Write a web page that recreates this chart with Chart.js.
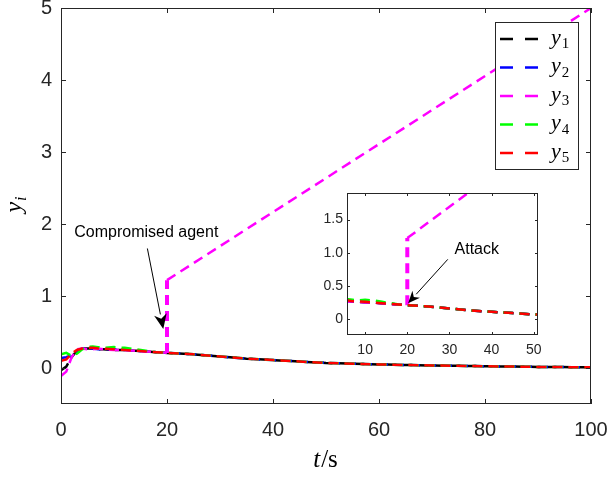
<!DOCTYPE html>
<html lang="en">
<head>
<meta charset="UTF-8">
<title>y_i x t</title>
<script src="https://cdn.jsdelivr.net/npm/chart.js"></script>
<style>
  body { margin: 0; background: #fff; }
  #wrap { position: relative; width: 613px; height: 482px; }
  #main { position: absolute; left: 0; top: 0; }
  #inset { position: absolute; left: 300px; top: 185px; }
</style>
</head>
<body>
<div id="wrap">
  <canvas id="main" width="613" height="482"></canvas>
  <canvas id="inset" width="250" height="176"></canvas>
</div>
<script>
// amostras de tempo (s)
const tempo = [0, 1, 2, 3, 4, 5, 6, 7, 8, 10, 12, 14, 16, 18, 20, 25, 30, 35, 40, 45, 50, 60, 70, 80, 90, 100];

// saidas dos agentes
const y1 = [-0.03, 0.02, 0.15, 0.24, 0.27, 0.27, 0.27, 0.26, 0.26, 0.25, 0.25, 0.24, 0.23, 0.22, 0.21, 0.19, 0.16, 0.13, 0.11, 0.09, 0.07, 0.05, 0.035, 0.025, 0.015, 0.01];
const y2 = [0.14, 0.15, 0.18, 0.24, 0.27, 0.28, 0.27, 0.26, 0.26, 0.26, 0.25, 0.24, 0.23, 0.22, 0.21, 0.19, 0.16, 0.13, 0.11, 0.09, 0.07, 0.05, 0.035, 0.025, 0.015, 0.01];
const y3 = [-0.11, -0.05, 0.15, 0.26, 0.27, 0.26, 0.26, 0.27, 0.26, 0.25, 0.25, 0.24, 0.23, 0.22, 0.21]; // ate t = 20
const tAtaque = [20, 100];
const y3Ataque = [1.22, 5.0];
const y4 = [0.19, 0.21, 0.17, 0.2, 0.26, 0.29, 0.3, 0.29, 0.28, 0.29, 0.28, 0.26, 0.24, 0.22, 0.21, 0.19, 0.16, 0.13, 0.11, 0.09, 0.07, 0.05, 0.035, 0.025, 0.015, 0.01];
const y5 = [0.1, 0.12, 0.2, 0.25, 0.27, 0.28, 0.28, 0.27, 0.27, 0.26, 0.25, 0.24, 0.23, 0.22, 0.21, 0.19, 0.16, 0.13, 0.11, 0.09, 0.07, 0.05, 0.035, 0.025, 0.015, 0.01];

const nomes = ['1', '2', '3', '4', '5'];
const cores = ['#000000', '#0000ff', '#ff00ff', '#00ff00', '#ff0000'];

// ticks
const xTicksMain = [0, 20, 40, 60, 80, 100];
const yTicksMain = [0, 1, 2, 3, 4, 5];
const xTicksInset = [10, 20, 30, 40, 50];
const yTicksInset = [0, 0.5, 1, 1.5];

// anotacoes (coordenadas de dados)
const notaMain = { texto: 'Compromised agent', pos: [2.5, 1.88], de: [16.3, 1.66], para: [19.3, 0.54] };
const notaInset = { texto: 'Attack', pos: [31.2, 1.04], de: [29.6, 0.9], para: [20.2, 0.24] };

const fonteTick = 'Liberation Sans, Arial, sans-serif';
const fonteMat = 'Liberation Serif, Times New Roman, serif';

function pontos(ts, ys) {
  return ys.map((v, i) => ({ x: ts[i], y: v }));
}

function montarDatasets() {
  const series = [
    pontos(tempo, y1),
    pontos(tempo, y2),
    pontos(tempo, y3).concat(pontos(tAtaque, y3Ataque)),
    pontos(tempo, y4),
    pontos(tempo, y5)
  ];
  return series.map((dados, i) => ({
    label: 'y' + nomes[i],
    data: dados,
    borderColor: cores[i],
    borderWidth: 2.5,
    borderDash: [10, 6],
    pointRadius: 0,
    tension: 0,
    fill: false,
    order: 5 - i,
    segment: {
      borderWidth: c => (c.p0.parsed.x === c.p1.parsed.x ? 4 : 2.5)
    }
  }));
}

function seta(ctx, x0, y0, x1, y1, comp, larg) {
  const ang = Math.atan2(y1 - y0, x1 - x0);
  const bx = x1 - comp * Math.cos(ang), by = y1 - comp * Math.sin(ang);
  ctx.beginPath();
  ctx.moveTo(x0, y0);
  ctx.lineTo(bx, by);
  ctx.stroke();
  const nx = -Math.sin(ang), ny = Math.cos(ang);
  const cx = x1 - comp * 0.7 * Math.cos(ang), cy = y1 - comp * 0.7 * Math.sin(ang);
  ctx.beginPath();
  ctx.moveTo(x1, y1);
  ctx.lineTo(bx + nx * larg / 2, by + ny * larg / 2);
  ctx.lineTo(cx, cy);
  ctx.lineTo(bx - nx * larg / 2, by - ny * larg / 2);
  ctx.closePath();
  ctx.fill();
}

// caixa com ticks para dentro (estilo matlab) + fundo branco
const caixaPlugin = {
  id: 'caixa',
  beforeDraw(chart) {
    const { ctx, chartArea: a } = chart;
    ctx.save();
    ctx.fillStyle = '#fff';
    ctx.fillRect(a.left, a.top, a.width, a.height);
    ctx.restore();
  },
  afterDatasetsDraw(chart, args, opts) {
    const { ctx, chartArea: a, scales } = chart;
    const L = opts.len || 5;
    ctx.save();
    ctx.strokeStyle = '#262626';
    ctx.lineWidth = 1;
    ctx.strokeRect(a.left + 0.5, a.top + 0.5, a.width - 1, a.height - 1);
    ctx.beginPath();
    scales.x.ticks.forEach(t => {
      const px = Math.round(scales.x.getPixelForValue(t.value)) + 0.5;
      ctx.moveTo(px, a.bottom); ctx.lineTo(px, a.bottom - L);
      ctx.moveTo(px, a.top); ctx.lineTo(px, a.top + L);
    });
    scales.y.ticks.forEach(t => {
      const py = Math.round(scales.y.getPixelForValue(t.value)) + 0.5;
      ctx.moveTo(a.left, py); ctx.lineTo(a.left + L, py);
      ctx.moveTo(a.right, py); ctx.lineTo(a.right - L, py);
    });
    ctx.stroke();

    // anotacao
    const n = opts.nota;
    if (n) {
      const sx = scales.x, sy = scales.y;
      ctx.fillStyle = '#000';
      ctx.strokeStyle = '#000';
      ctx.font = '16px ' + fonteTick;
      ctx.textAlign = 'left';
      ctx.textBaseline = 'middle';
      ctx.fillText(n.texto, sx.getPixelForValue(n.pos[0]), sy.getPixelForValue(n.pos[1]));
      ctx.lineWidth = 1;
      seta(ctx, sx.getPixelForValue(n.de[0]), sy.getPixelForValue(n.de[1]),
        sx.getPixelForValue(n.para[0]), sy.getPixelForValue(n.para[1]), opts.cabeca, opts.cabeca * 0.85);
    }
    ctx.restore();
  }
};

// legenda e titulos dos eixos do grafico principal
const extrasPlugin = {
  id: 'extras',
  afterDraw(chart) {
    const ctx = chart.ctx;
    ctx.save();
    // legenda
    ctx.fillStyle = '#fff';
    ctx.fillRect(495, 22, 83, 147);
    ctx.strokeStyle = '#262626';
    ctx.lineWidth = 1;
    ctx.strokeRect(495.5, 22.5, 83, 147);
    chart.data.datasets.forEach((ds, i) => {
      const yy = 39 + i * 28.5;
      ctx.strokeStyle = ds.borderColor;
      ctx.lineWidth = 2.5;
      ctx.setLineDash([13, 12]);
      ctx.beginPath();
      ctx.moveTo(500, yy); ctx.lineTo(538, yy);
      ctx.stroke();
      ctx.setLineDash([]);
      ctx.fillStyle = '#000';
      ctx.textAlign = 'left';
      ctx.textBaseline = 'alphabetic';
      ctx.font = 'italic 22px ' + fonteMat;
      ctx.fillText('y', 551, yy + 4.5);
      const w = ctx.measureText('y').width;
      ctx.font = '15px ' + fonteMat;
      ctx.fillText(nomes[i], 551 + w + 1, yy + 9);
    });

    // titulo x: t/s
    ctx.fillStyle = '#000';
    ctx.textBaseline = 'alphabetic';
    ctx.font = 'italic 25px ' + fonteMat;
    const wt = ctx.measureText('t').width;
    ctx.font = '25px ' + fonteMat;
    const ws = ctx.measureText('/s').width;
    let x0 = 325 - (wt + ws) / 2;
    ctx.font = 'italic 25px ' + fonteMat;
    ctx.fillText('t', x0, 467);
    ctx.font = '25px ' + fonteMat;
    ctx.fillText('/s', x0 + wt + 1, 467);

    // titulo y: y_i (rotacionado)
    ctx.translate(21, 205);
    ctx.rotate(-Math.PI / 2);
    ctx.font = 'italic 24px ' + fonteMat;
    const wy = ctx.measureText('y').width;
    ctx.font = 'italic 16px ' + fonteMat;
    const wi = ctx.measureText('i').width;
    const ini = -(wy + wi) / 2;
    ctx.font = 'italic 24px ' + fonteMat;
    ctx.fillText('y', ini, 0);
    ctx.font = 'italic 16px ' + fonteMat;
    ctx.fillText('i', ini + wy + 1, 5);
    ctx.restore();
  }
};

function opcoesEixos(cfg) {
  return {
    x: {
      type: 'linear',
      min: cfg.xmin, max: cfg.xmax,
      afterBuildTicks: s => { s.ticks = cfg.xticks.map(v => ({ value: v })); },
      afterFit: s => { s.height = cfg.alturaX; s.paddingLeft = 0; s.paddingRight = 0; },
      grid: { display: false, drawTicks: false },
      border: { display: false },
      ticks: { font: { family: fonteTick, size: cfg.fonte }, color: '#262626', padding: cfg.padX, maxRotation: 0, autoSkip: false }
    },
    y: {
      type: 'linear',
      min: cfg.ymin, max: cfg.ymax,
      afterBuildTicks: s => { s.ticks = cfg.yticks.map(v => ({ value: v })); },
      afterFit: s => { s.width = cfg.larguraY; s.paddingTop = 0; s.paddingBottom = 0; },
      grid: { display: false, drawTicks: false },
      border: { display: false },
      ticks: { font: { family: fonteTick, size: cfg.fonte }, color: '#262626', padding: cfg.padY, autoSkip: false }
    }
  };
}

new Chart(document.getElementById('main'), {
  type: 'line',
  data: { datasets: montarDatasets() },
  options: {
    responsive: false,
    animation: false,
    layout: { padding: { top: 8, right: 22, left: 0, bottom: 0 } },
    scales: opcoesEixos({ xmin: 0, xmax: 100, ymin: -0.5, ymax: 5, xticks: xTicksMain, yticks: yTicksMain,
      alturaX: 78, larguraY: 61, fonte: 20, padX: 14, padY: 9 }),
    plugins: {
      legend: { display: false },
      tooltip: { enabled: false },
      caixa: { len: 5, nota: notaMain, cabeca: 15 }
    }
  },
  plugins: [caixaPlugin, extrasPlugin]
});

new Chart(document.getElementById('inset'), {
  type: 'line',
  data: { datasets: montarDatasets() },
  options: {
    responsive: false,
    animation: false,
    layout: { padding: { top: 8, right: 12, left: 0, bottom: 0 } },
    scales: opcoesEixos({ xmin: 5.7, xmax: 51, ymin: -0.24, ymax: 1.9, xticks: xTicksInset, yticks: yTicksInset,
      alturaX: 26, larguraY: 47, fonte: 14, padX: 7, padY: 4 }),
    plugins: {
      legend: { display: false },
      tooltip: { enabled: false },
      caixa: { len: 3, nota: notaInset, cabeca: 12 }
    }
  },
  plugins: [caixaPlugin]
});
</script>
</body>
</html>
